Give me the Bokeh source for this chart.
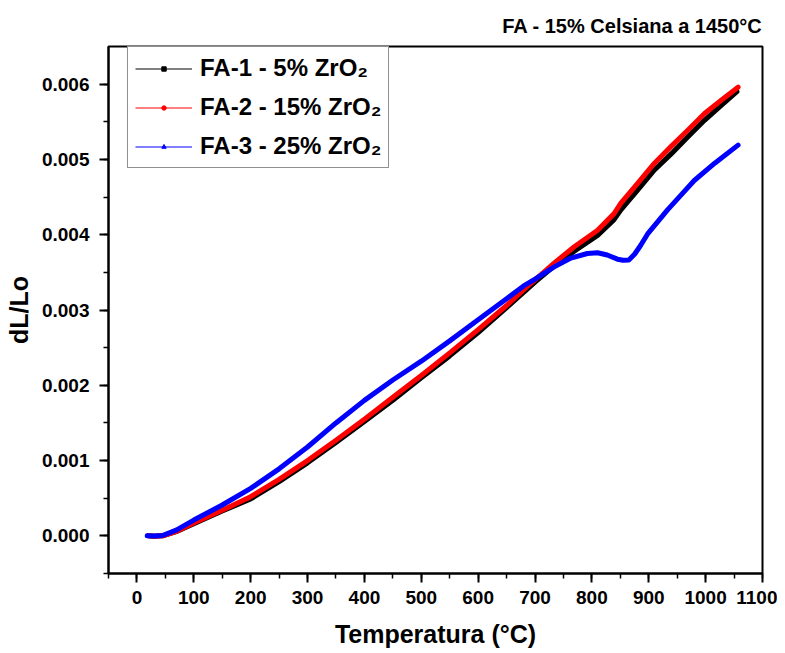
from bokeh.plotting import figure
from bokeh.models import (Range1d, Legend, LegendItem, NumeralTickFormatter,
                          ColumnDataSource, FixedTicker)
from bokeh.embed import file_html
from bokeh.resources import INLINE

# ---- data (temperature in °C, dL/Lo) ----
t_fa1 = [20, 30, 45, 70, 100, 150, 200, 250, 300, 350, 400, 450, 500, 550,
         600, 650, 700, 733, 769, 810, 839, 851, 880, 910, 939, 969, 998,
         1028, 1055]
v_fa1 = [0.0, -0.000005, 0.0, 0.00006, 0.00016, 0.00033, 0.00049, 0.00072,
         0.00097, 0.00124, 0.00152, 0.00180, 0.00210, 0.00239, 0.00270,
         0.00303, 0.00337, 0.00358, 0.00378, 0.00399, 0.00420, 0.00433,
         0.00459, 0.00486, 0.00507, 0.00530, 0.00552, 0.00572, 0.00590]

t_fa2 = [20, 30, 45, 70, 100, 150, 200, 250, 300, 350, 400, 450, 500, 550,
         600, 650, 686, 700, 733, 769, 810, 839, 851, 880, 910, 939, 969, 998,
         1028, 1057]
v_fa2 = [0.0, -0.000005, 0.0, 0.00006, 0.00017, 0.00034, 0.00052, 0.00075,
         0.00100, 0.00127, 0.00155, 0.00184, 0.00213, 0.00243, 0.00274,
         0.00306, 0.00331, 0.00340, 0.00362, 0.00384, 0.00406, 0.00428,
         0.00442, 0.00468, 0.00495, 0.00517, 0.00539, 0.00561, 0.00579, 0.00596]

t_fa3 = [18, 30, 45, 70, 100, 150, 200, 250, 300, 350, 400, 450, 500, 550,
         600, 650, 680, 700, 733, 763, 792, 810, 827, 845, 855, 865, 875, 885,
         898, 921, 933, 957, 980, 1016, 1057]
v_fa3 = [0.0, -0.000003, 0.000005, 0.00008, 0.00021, 0.00041, 0.00063,
         0.00089, 0.00118, 0.00150, 0.00180, 0.00207, 0.00232, 0.00259,
         0.00287, 0.00315, 0.00332, 0.00341, 0.00357, 0.00369, 0.00375,
         0.00376, 0.00373, 0.003675, 0.00366, 0.003665, 0.00374, 0.00385,
         0.00401, 0.00422, 0.00433, 0.00453, 0.00472, 0.00495, 0.00519]

series_names = ["FA-1 - 5% ZrO\u2082", "FA-2 - 15% ZrO\u2082", "FA-3 - 25% ZrO\u2082"]
x_ticks = list(range(0, 1101, 100))
y_ticks = [0.000, 0.001, 0.002, 0.003, 0.004, 0.005, 0.006]

FONT = "Liberation Sans"

p = figure(width=777, height=650, output_backend="svg", toolbar_location=None,
           x_range=Range1d(-50, 1100), y_range=Range1d(-0.0005, 0.0065),
           min_border_left=108, min_border_right=15, min_border_top=46,
           min_border_bottom=75, title="FA - 15% Celsiana a 1450°C")

p.title.align = "right"
p.title.text_font = FONT
p.title.text_font_size = "20px"
p.title.text_font_style = "bold"
p.title.text_color = "black"
p.title.standoff = 19

p.grid.visible = False
p.outline_line_color = "black"
p.outline_line_width = 2
p.outline_line_alpha = 1
p.background_fill_color = "white"
p.border_fill_color = "white"

for ax in (p.xaxis[0], p.yaxis[0]):
    ax.axis_line_width = 2
    ax.major_tick_line_width = 2
    ax.minor_tick_line_width = 1.5
    ax.major_tick_in = 0
    ax.major_tick_out = 9
    ax.minor_tick_in = 0
    ax.minor_tick_out = 5
    ax.major_label_text_font = FONT
    ax.major_label_text_font_style = "bold"
    ax.major_label_text_font_size = "19px"
    ax.major_label_text_color = "black"
    ax.axis_label_text_font = FONT
    ax.axis_label_text_font_style = "bold"
    ax.axis_label_text_font_size = "25px"
    ax.axis_label_text_color = "black"

p.xaxis.ticker = FixedTicker(ticks=x_ticks,
                             minor_ticks=list(range(-50, 1101, 50)))
p.yaxis.ticker = FixedTicker(ticks=y_ticks,
                             minor_ticks=[i * 0.0005 for i in range(-1, 14)])
p.yaxis.formatter = NumeralTickFormatter(format="0.000")
p.xaxis.axis_label = "Temperatura (°C)"
p.yaxis.axis_label = "dL/Lo"
p.xaxis.axis_label_standoff = 13
p.yaxis.axis_label_standoff = 6
p.xaxis.major_label_standoff = 8
p.yaxis.major_label_standoff = 10

colors = ["black", "red", "blue"]
markers = ["square", "circle", "triangle"]
data = [(t_fa1, v_fa1), (t_fa2, v_fa2), (t_fa3, v_fa3)]

items = []
for (t, v), c, m, name in zip(data, colors, markers, series_names):
    p.line(t, v, line_color=c, line_width=5, line_join="round", line_cap="round")
    # thin line + small marker used only as the legend sample (kept off-range)
    off = ColumnDataSource(data=dict(x=[-1000, -900], y=[0.0, 0.0]))
    lr = p.line("x", "y", source=off, line_color=c, line_width=1)
    sr = p.scatter("x", "y", source=off, marker=m, size=4,
                   fill_color=c, line_color=c)
    items.append(LegendItem(label=name, renderers=[lr, sr]))

legend = Legend(items=items, location=(19, 405))
legend.label_text_font = FONT
legend.label_text_font_style = "bold"
legend.label_text_font_size = "24px"
legend.label_text_color = "black"
legend.glyph_width = 57
legend.glyph_height = 11
legend.label_height = 26
legend.spacing = 11
legend.padding = 7
legend.margin = 0
legend.label_standoff = 8
legend.border_line_color = "#222222"
legend.border_line_width = 1
legend.background_fill_alpha = 1
p.add_layout(legend)

open("out.html", "w").write(file_html(p, INLINE))
